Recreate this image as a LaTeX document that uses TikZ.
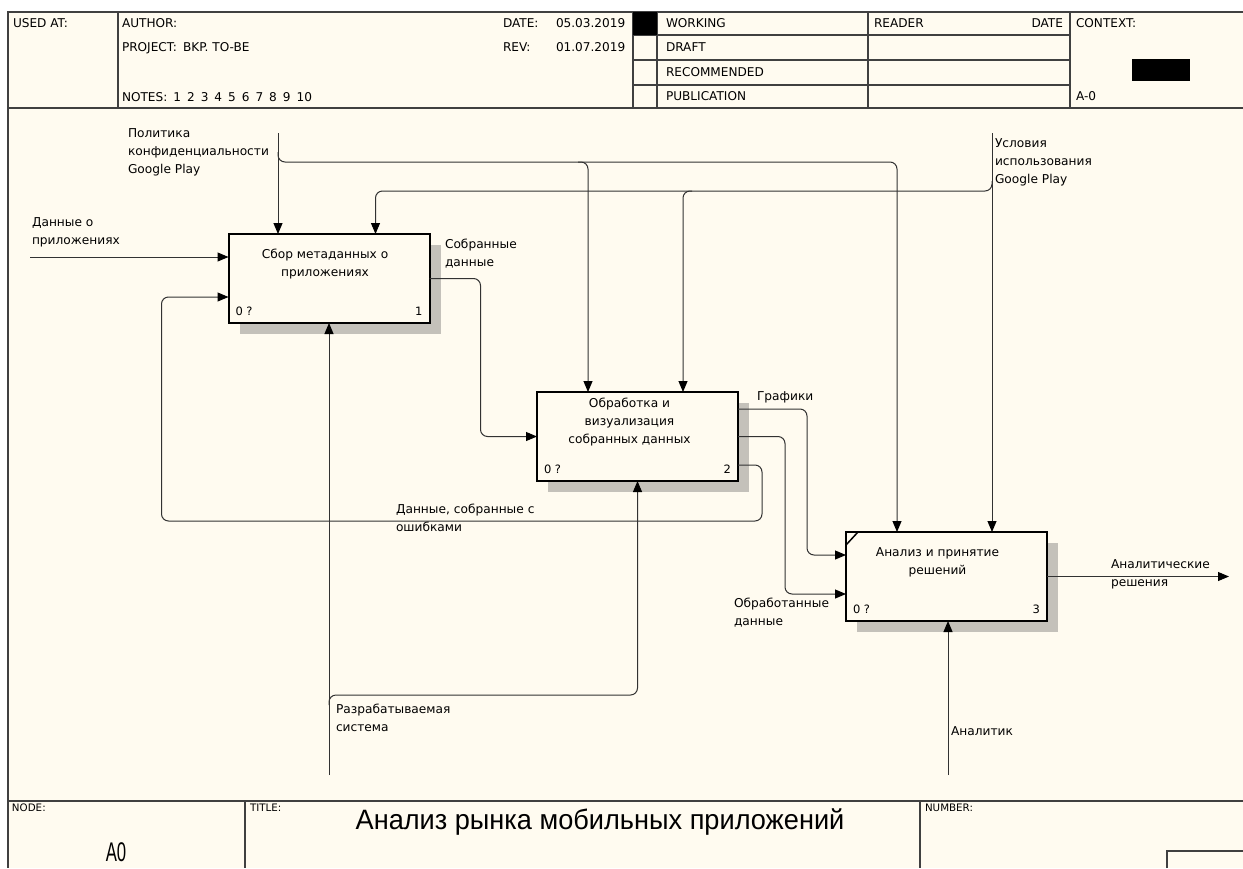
\documentclass[tikz,border=0pt]{standalone}
\usepackage{fontspec}
\setmainfont{DejaVu Sans}
\newfontfamily\titlefont[FakeStretch=0.97]{Liberation Sans}
\newfontfamily\nodeidfont[FakeStretch=0.62]{Liberation Sans}
\usetikzlibrary{arrows.meta,calc,shadows}
\definecolor{paper}{RGB}{255,251,240}
\definecolor{rule}{RGB}{64,64,64}
\definecolor{wire}{RGB}{50,50,50}
\definecolor{shade}{RGB}{196,193,186}
\begin{document}
\begin{tikzpicture}[x=1pt,y=-1pt,
  every node/.style={inner sep=0pt, outer sep=0pt},
  cell/.style={font=\fontsize{12.1}{14}\selectfont, anchor=base west},
  small/.style={font=\fontsize{10.3}{12}\selectfont, anchor=base west},
  lab/.style={font=\fontsize{12.2}{18}\selectfont, align=left, anchor=north west,
              execute at begin node=\strut, execute at end node=\strut},
  fntext/.style={font=\fontsize{12.2}{18}\selectfont, align=center, anchor=north,
              execute at begin node=\strut, execute at end node=\strut},
  fn/.style={draw=black, line width=2pt, fill=paper, minimum width=201pt, minimum height=89pt,
             drop shadow={shadow xshift=11pt, shadow yshift=-11pt, fill=shade, draw=none, opacity=1}},
  corner/.style={font=\fontsize{11.5}{13}\selectfont},
  flow/.style={draw=wire, line width=1pt, rounded corners=7pt},
  arr/.style={flow, -{Triangle[length=11pt,width=9pt,color=black]}},
  grid/.style={draw=rule, line width=1.2pt},
]
% sheet and frame
\useasboundingbox (0,0) rectangle (1243,868);
\fill[white] (0,0) rectangle (1243,868);
\fill[paper] (8,12) rectangle (1243,868);
\draw[grid] (1243,12) -- (8,12) -- (8,868);
\draw[grid] (8,108) -- (1243,108);
\draw[grid] (8,801) -- (1243,801);

% header grid
\foreach \x in {118,633,657,868,1070} \draw[grid] (\x,12) -- (\x,108);
\foreach \y in {35,60,85} \draw[grid] (633,\y) -- (1070,\y);
\fill[black] (633,12) rectangle (657,35);
\fill[black] (1132,59) rectangle (1190,81);

% header texts
\node[cell] (hUsed) at (13,27.3) {USED AT:};
\node[cell] (hAuthor) at (122,27.3) {AUTHOR:};
\node[cell] (hProject) at (122,51.3) {PROJECT:\hspace{6pt}BKP. TO-BE};
\node[cell] (hNotes) at (122,101.3) {NOTES:\hspace{6pt}1\hspace{6pt}2\hspace{6pt}3\hspace{6pt}4\hspace{6pt}5\hspace{6pt}6\hspace{6pt}7\hspace{6pt}8\hspace{6pt}9\hspace{6pt}10};
\node[cell] (hDate) at (503,27.3) {DATE:};
\node[cell] (hDateV) at (556,27.3) {05.03.2019};
\node[cell] (hRev) at (503,51.3) {REV:};
\node[cell] (hRevV) at (556,51.3) {01.07.2019};
\node[cell] (hWorking) at (666,27.3) {WORKING};
\node[cell] (hDraft) at (666,51.8) {DRAFT};
\node[cell] (hRecom) at (666,76.8) {RECOMMENDED};
\node[cell] (hPub) at (666,100.8) {PUBLICATION};
\node[cell] (hReader) at (874,27.3) {READER};
\node[cell, anchor=base east] (hRDate) at (1063,27.3) {DATE};
\node[cell] (hContext) at (1076,27.3) {CONTEXT:};
\node[cell] (hCtxId) at (1076,100.8) {A-0};

% footer
\draw[grid] (245,801) -- (245,868);
\draw[grid] (920,801) -- (920,868);
\draw[grid] (1167,868) -- (1167,851) -- (1243,851);
\node[small] (fNode) at (12,811) {NODE:};
\node[small] (fTitle) at (250,811) {TITLE:};
\node[small] (fNumber) at (925,811) {NUMBER:};
\node[font=\nodeidfont\fontsize{27}{30}\selectfont, anchor=base] (fId) at (116,861) {A0};
\node[font=\titlefont\fontsize{28}{32}\selectfont, anchor=base] (fName) at (600,829) {Анализ рынка мобильных приложений};

% activity boxes
\node[fn] (b1) at (329,278.5) {};
\node[fn] (b2) at (637.5,436.5) {};
\node[fn] (b3) at (946.5,576.5) {};
\draw[line width=1.5pt] ($(b3.north west)+(0,13)$) -- ($(b3.north west)+(12,0)$);

\node[fntext] (t1) at ($(b1.north)+(-4,14.7)$) {Сбор метаданных о\\приложениях};
\node[fntext] (t2) at ($(b2.north)+(-8,5.7)$) {Обработка и\\визуализация\\собранных данных};
\node[fntext] (t3) at ($(b3.north)+(-9,15.7)$) {Анализ и принятие\\решений};

\foreach \b/\n in {b1/1,b2/2,b3/3}{
  \node[corner, anchor=west] (\b c) at ($(\b.south west)+(7,-12)$) {0 ?};
  \node[corner, anchor=east] (\b n) at ($(\b.south east)+(-7,-12)$) {\n};
}

% free ends of the boundary arrows
\coordinate (srcApps) at (30,257);
\coordinate (srcPolicy) at (278,133);
\coordinate (srcTerms) at (992,133);
\coordinate (mechSys) at (329,775);
\coordinate (mechAnalyst) at (948,775);
\coordinate (sinkDecisions) at (1229,576.5);
\coordinate (b1in2) at ($(b1.north west)+(0,63)$);
\coordinate (b3in1) at ($(b3.north west)+(0,23)$);
\coordinate (b3in2) at ($(b3.north west)+(0,62)$);
\coordinate (b2fb) at ($(b2.south east)+(0,-16)$);

% inputs
\draw[arr] (srcApps) -- (srcApps -| b1.west);
\draw[arr] (b1.east) -- ++(51,0) |- (b2.west);
\draw[arr] (b2fb) -- ++(24,0) -- ++(0,56) -| ($(b1in2)+(-67,0)$) -- (b1in2);
\draw[arr] ($(b2.north east)+(0,17)$) -- ++(69,0) |- (b3in1);
\draw[arr] (b2.east) -- ++(47,0) |- (b3in2);

% controls
\draw[arr] (srcPolicy) -- (srcPolicy |- b1.north);
\draw[arr] ($(srcPolicy)+(0,19)$) -- ($(srcPolicy)+(0,29)$) -| ($(b3.north west)+(51,0)$);
\draw[arr] ($(srcPolicy)+(300,29)$) -| ($(b2.north west)+(51,0)$);
\draw[arr] (srcTerms) -- (srcTerms |- b3.north);
\draw[arr] ($(srcTerms)+(0,48)$) -- ($(srcTerms)+(0,58)$) -| ($(b1.north west)+(147,0)$);
\draw[arr] ($(srcTerms)+(-300,58)$) -| ($(b2.north west)+(146,0)$);

% output
\draw[arr] (b3.east) -- (sinkDecisions);

% mechanisms
\draw[arr] (mechSys) -- (b1.south);
\draw[arr] ($(mechSys)+(0,-70)$) -- ($(mechSys)+(0,-80)$) -| (b2.south);
\draw[arr] (mechAnalyst) -- (mechAnalyst |- b3.south);

% arrow labels
\node[lab] (lPolicy) at (128,128.7) {Политика\\конфиденциальности\\Google Play};
\node[lab] (lTerms) at (995,138.7) {Условия\\использования\\Google Play};
\node[lab] (lApps) at (32,217.7) {Данные о\\приложениях};
\node[lab] (lCollected) at (445,238.7) {Собранные\\данные};
\node[lab] (lCharts) at (757,387.7) {Графики};
\node[lab] (lErrors) at (396,503.7) {Данные, собранные с\\ошибками};
\node[lab] (lProcessed) at (734,597.7) {Обработанные\\данные};
\node[lab] (lDecisions) at (1111,559.7) {Аналитические\\решения};
\node[lab] (lSystem) at (336,703.7) {Разрабатываемая\\система};
\node[lab] (lAnalyst) at (951,722.7) {Аналитик};
\end{tikzpicture}
\end{document}
